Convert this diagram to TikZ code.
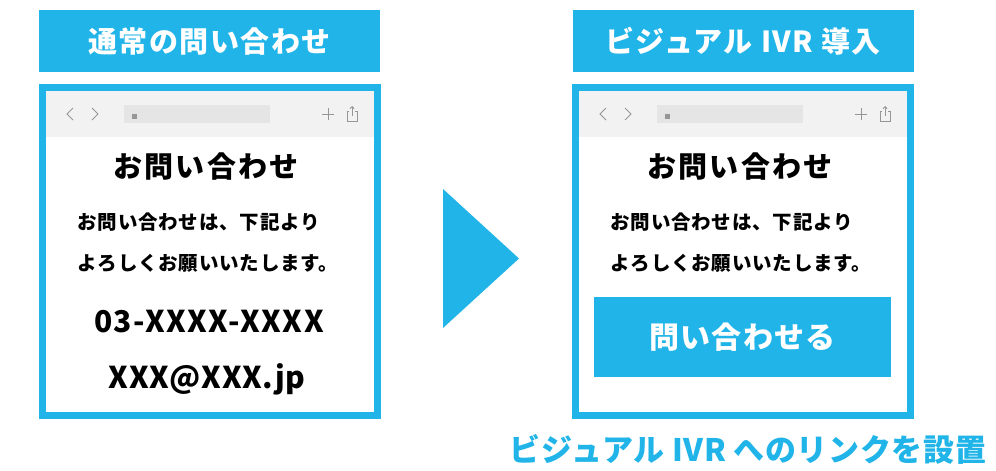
\documentclass[tikz,border=0pt]{standalone}
\usepackage{fontspec}
\setmainfont{Noto Sans CJK JP}
\usepackage{xcolor}
\usetikzlibrary{arrows.meta, positioning}

\definecolor{ivrblue}{RGB}{32,180,232}
\definecolor{bargray}{RGB}{242,242,242}
\definecolor{urlgray}{RGB}{229,229,229}
\definecolor{icongray}{RGB}{150,150,150}

\begin{document}
\begin{tikzpicture}[
  x=1pt, y=-1pt,
  title/.style={fill=ivrblue, text=white, minimum width=341pt, minimum height=62pt,
                inner sep=0pt, font=\fontsize{29}{32}\selectfont\bfseries\addfontfeature{LetterSpace=5}},
  frame/.style={draw=ivrblue, line width=7pt, fill=white, minimum width=335pt,
                minimum height=328pt, inner sep=0pt},
  bar/.style={fill=bargray, minimum width=328pt, minimum height=46pt, inner sep=0pt},
  url/.style={fill=urlgray, minimum width=146pt, minimum height=18pt, inner sep=0pt},
  icon/.style={draw=icongray, line width=0.9pt},
  head/.style={font=\fontsize{29}{32}\selectfont\bfseries\addfontfeature{LetterSpace=8}},
  body/.style={font=\fontsize{19.5}{41}\selectfont\bfseries\addfontfeature{LetterSpace=4},
               align=left, anchor=west},
  contact/.style={font=\fontsize{30}{32}\selectfont\bfseries\addfontfeature{LetterSpace=5}},
  button/.style={fill=ivrblue, text=white, minimum width=297pt, minimum height=80pt,
                 inner sep=0pt, font=\fontsize{30}{32}\selectfont\bfseries\addfontfeature{LetterSpace=4}},
]
\useasboundingbox (0,0) rectangle (996,471);

% Titles
\node[title] (ltitle) at (209.5,41) {通常の問い合わせ};
\node[title] (rtitle) at (743,41) {ビジュアル IVR 導入};

% Left panel
\node[frame] (lframe) at (210,251.5) {};
\node[bar] (lbar) at (210,114) {};
\node[url] (lurl) at (197,114) {};
\draw[icon] (73,108) -- (67,114) -- (73,120);
\draw[icon] (92,108) -- (98,114) -- (92,120);
\fill[icongray] (131.5,114) rectangle (136.5,118.5);
\draw[icongray, line width=0.7pt] (132.5,114) arc (180:0:1.5);
\draw[icon] (322,114) -- (334,114) (328,108) -- (328,120);
\draw[icon] (349,111) -- (347,111) -- (347,121) -- (357,121) -- (357,111) -- (355,111);
\draw[icon, -{Straight Barb[length=2pt]}] (352,116) -- (352,106);
\node[head] (lhead) at (206,167) {お問い合わせ};
\node[body] (lbody) at (74,242.5) {お問い合わせは、下記より\\よろしくお願いいたします。};
\node[contact] (ltel) at (209,322) {03-XXXX-XXXX};
\node[contact, font=\fontsize{30}{32}\selectfont\bfseries\addfontfeature{LetterSpace=2}]
  (lmail) at (207,379) {XXX@XXX.jp};

% Arrow
\fill[ivrblue] (443,189) -- (519,258.5) -- (443,328) -- cycle;

% Right panel
\node[frame] (rframe) at (743,251.5) {};
\node[bar] (rbar) at (743,114) {};
\node[url] (rurl) at (730,114) {};
\draw[icon] (606,108) -- (600,114) -- (606,120);
\draw[icon] (625,108) -- (631,114) -- (625,120);
\fill[icongray] (664.5,114) rectangle (669.5,118.5);
\draw[icongray, line width=0.7pt] (665.5,114) arc (180:0:1.5);
\draw[icon] (855,114) -- (867,114) (861,108) -- (861,120);
\draw[icon] (882,111) -- (880,111) -- (880,121) -- (890,121) -- (890,111) -- (888,111);
\draw[icon, -{Straight Barb[length=2pt]}] (885,116) -- (885,106);
\node[head] (rhead) at (740,167) {お問い合わせ};
\node[body] (rbody) at (607,242.5) {お問い合わせは、下記より\\よろしくお願いいたします。};
\node[button] (rbutton) at (742.5,337) {問い合わせる};

% Caption
\node[font=\fontsize{31}{34}\selectfont\bfseries\addfontfeature{LetterSpace=2}, text=ivrblue]
  (caption) at (748,449) {ビジュアル IVR へのリンクを設置};

\end{tikzpicture}
\end{document}
